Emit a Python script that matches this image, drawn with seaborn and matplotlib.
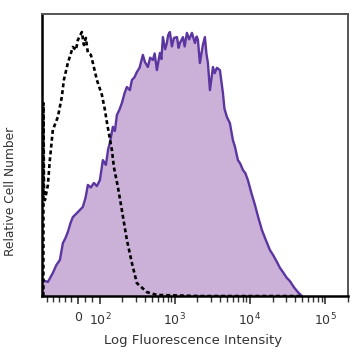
import numpy as np
import pandas as pd
import matplotlib
matplotlib.use("Agg")
import matplotlib.pyplot as plt
import seaborn as sns

# axis position in decades (biexponential display: "0" sits left of 10^2)
stained_pos = [1.227, 1.307, 1.373, 1.42, 1.467, 1.507, 1.54, 1.573, 1.61, 1.64,
               1.707, 1.773, 1.81, 1.84, 1.88, 1.92, 1.96, 2.0, 2.04, 2.08,
               2.11, 2.133, 2.173, 2.2, 2.227, 2.26, 2.293, 2.33, 2.36, 2.4,
               2.427, 2.46, 2.493, 2.53, 2.573, 2.6, 2.64, 2.67, 2.707, 2.73,
               2.76, 2.8, 2.82, 2.84, 2.87, 2.893, 2.91, 2.933, 2.96, 2.987,
               3.027, 3.05, 3.067, 3.107, 3.13, 3.16, 3.19, 3.227, 3.267, 3.29,
               3.307, 3.333, 3.373, 3.4, 3.42, 3.44, 3.467, 3.507, 3.53, 3.56,
               3.6, 3.64, 3.66, 3.693, 3.733, 3.773, 3.8, 3.84, 3.87, 3.907,
               3.94, 3.973, 4.02, 4.067, 4.11, 4.16, 4.21, 4.267, 4.31, 4.36,
               4.4, 4.44, 4.49, 4.533, 4.59, 4.64, 4.693]
stained_count = [5.7, 5.0, 8.2, 11.0, 12.8, 18.8, 20.5, 22.7, 26.0, 28.0,
                 29.8, 31.6, 35.0, 39.4, 38.5, 40.1, 39.0, 41.1, 48.2, 46.5,
                 52.0, 54.3, 60.0, 58.5, 64.2, 66.0, 68.4, 72.0, 74.1, 73.0,
                 76.6, 77.5, 79.4, 81.0, 85.5, 83.0, 81.2, 84.5, 83.7, 86.0,
                 80.1, 86.2, 84.0, 91.8, 87.5, 89.7, 92.5, 93.6, 88.5, 91.5,
                 91.8, 88.0, 89.7, 91.8, 88.5, 93.3, 91.0, 93.3, 89.7, 92.0,
                 90.8, 82.6, 89.0, 91.8, 86.0, 82.6, 73.0, 81.2, 79.0, 80.9,
                 80.1, 72.0, 66.5, 63.5, 61.3, 55.3, 53.0, 48.2, 47.0, 44.7,
                 43.5, 41.1, 36.5, 32.3, 28.0, 23.4, 20.0, 16.3, 14.5, 12.1,
                 10.0, 8.5, 6.5, 5.3, 3.0, 1.4, 0.0]

isotype_pos = [1.247, 1.248, 1.255, 1.267, 1.307, 1.333, 1.373, 1.44, 1.493, 1.52,
               1.573, 1.64, 1.68, 1.707, 1.76, 1.787, 1.813, 1.84, 1.88, 1.907,
               1.96, 2.027, 2.067, 2.093, 2.16, 2.187, 2.24, 2.293, 2.36, 2.427,
               2.493, 2.627, 2.76, 3.333, 4.667]
isotype_count = [0.0, 68.4, 38.0, 34.0, 39.4, 48.2, 58.9, 63.5, 70.6, 76.6,
                 82.6, 88.3, 87.2, 90.8, 93.6, 89.0, 91.5, 86.2, 85.5, 82.6,
                 76.6, 71.3, 66.0, 61.7, 51.8, 45.7, 38.7, 30.5, 19.9, 11.7,
                 4.6, 1.4, 0.4, 0.0, 0.0]

tick_pos = [1.707, 2, 3, 4, 5]
tick_labels = ["0", "$10^2$", "$10^3$", "$10^4$", "$10^5$"]

sns.set_style("white")
plt.rcParams['font.family'] = ['Liberation Sans Narrow', 'DejaVu Sans']
plt.rcParams['mathtext.fontset'] = 'dejavusans'

stained = pd.DataFrame({"pos": stained_pos, "count": stained_count})
isotype = pd.DataFrame({"pos": isotype_pos, "count": isotype_count})

fig = plt.figure(figsize=(3.58, 3.58), dpi=100)
ax = fig.add_axes([0.117, 0.173, 0.855, 0.788])

ax.fill_between(stained["pos"], stained["count"], 0, color="#cbb0d8", linewidth=0)
sns.lineplot(data=stained, x="pos", y="count", ax=ax, color="#5b35a0", linewidth=1.7,
             sort=False, estimator=None)
sns.lineplot(data=isotype, x="pos", y="count", ax=ax, color="black", linewidth=1.9,
             sort=False, estimator=None, dashes=False, linestyle=(0, (1.5, 1.1)))

ax.set_xlim(1.227, 5.307)
ax.set_ylim(0, 100)
ax.set_yticks([])
ax.set_xticks(tick_pos)
ax.set_xticklabels(tick_labels, fontsize=9, color="#333333")
minor = [np.log10(k * 10.0 ** d) for d in range(2, 5) for k in range(2, 10)]
minor += [1.3, 1.38, 1.46, 1.54, 1.62, 1.8, 1.9, np.log10(2e5)]
ax.set_xticks(minor, minor=True)
ax.tick_params(axis="x", which="major", direction="out", length=6, width=1.2,
               color="#333333", pad=5, bottom=True)
ax.tick_params(axis="x", which="minor", direction="out", length=4, width=1.0,
               color="#333333", bottom=True)
for side in ["left", "bottom"]:
    ax.spines[side].set_linewidth(1.8)
    ax.spines[side].set_color("black")
for side in ["top", "right"]:
    ax.spines[side].set_linewidth(1.4)
    ax.spines[side].set_color("#555555")

ax.set_xlabel("")
ax.set_ylabel("")
fig.text(0.54, 0.05, "Log Fluorescence Intensity", ha="center", va="center",
         fontsize=9.5, color="#333333")
fig.text(0.03, 0.465, "Relative Cell Number", ha="center", va="center",
         rotation=90, fontsize=8.8, color="#333333")

fig.savefig("out.png", dpi=100)
